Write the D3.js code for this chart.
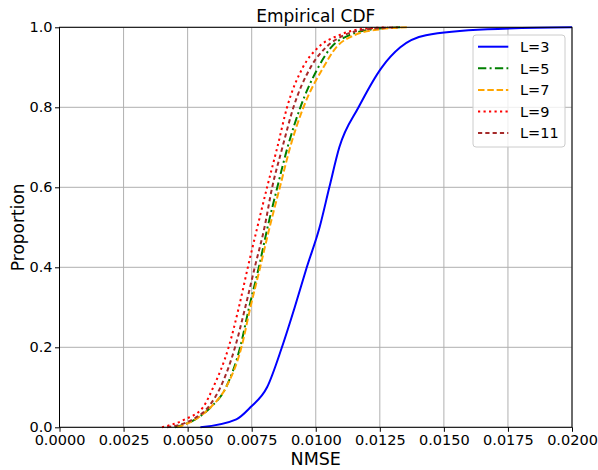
<!DOCTYPE html>
<html>
<head>
<meta charset="utf-8">
<script src="https://cdn.jsdelivr.net/npm/d3@7"></script>
<style>
  body { margin: 0; background: #fff; }
  svg { font-family: "DejaVu Sans", sans-serif; }
</style>
</head>
<body>
<svg width="598" height="470"></svg>
<script>
'use strict';

// proportion levels shared by every series (empirical quantiles)
const proportions = [0, 0.02, 0.05, 0.1, 0.2, 0.3, 0.4, 0.5, 0.6, 0.7, 0.8, 0.9, 0.95, 0.98, 0.995, 1];

// NMSE value at each proportion level, one array per L
const nmseL3  = [0.0055, 0.0069, 0.00745, 0.0081, 0.00868, 0.00918, 0.00965, 0.01015, 0.01053, 0.01092, 0.01167, 0.01258, 0.0133, 0.0143, 0.0167, 0.0200];
const nmseL5  = [0.0045, 0.0053, 0.0059, 0.0065, 0.00705, 0.0074, 0.00778, 0.00812, 0.0085, 0.0089, 0.0094, 0.0101, 0.0106, 0.0113, 0.0122, 0.0133];
const nmseL7  = [0.0046, 0.0053, 0.0059, 0.0065, 0.0071, 0.00745, 0.00783, 0.0082, 0.0086, 0.0090, 0.00952, 0.0103, 0.0108, 0.0115, 0.0125, 0.0136];
const nmseL9  = [0.0040, 0.0049, 0.0056, 0.0060, 0.0066, 0.0070, 0.00735, 0.00772, 0.0081, 0.0085, 0.00888, 0.0095, 0.0101, 0.0109, 0.0117, 0.0128];
const nmseL11 = [0.0042, 0.0052, 0.0058, 0.00628, 0.00685, 0.00725, 0.00762, 0.0080, 0.0083, 0.0087, 0.00913, 0.0098, 0.0104, 0.0111, 0.0120, 0.0132];

const seriesNames = ['L=3', 'L=5', 'L=7', 'L=9', 'L=11'];
const seriesValues = [nmseL3, nmseL5, nmseL7, nmseL9, nmseL11];

const xTicks = [0, 0.0025, 0.005, 0.0075, 0.01, 0.0125, 0.015, 0.0175, 0.02];
const yTicks = [0, 0.2, 0.4, 0.6, 0.8, 1.0];

const styles = [
  { color: '#0000ff', dash: null },
  { color: '#008000', dash: '8.3,3.3,2,3.3' },
  { color: '#ffa500', dash: '6.5,2.8' },
  { color: '#ff0000', dash: '2.2,3.3' },
  { color: '#a52a2a', dash: '4.2,3.1' }
];

const svg = d3.select('svg');
const margin = { left: 59.5, right: 26, top: 27.3, bottom: 42.7 };
const width = +svg.attr('width');
const height = +svg.attr('height');

const x = d3.scaleLinear().domain([0, 0.02]).range([margin.left, width - margin.right]);
const y = d3.scaleLinear().domain([0, 1]).range([height - margin.bottom, margin.top]);

svg.append('defs').append('clipPath')
    .attr('id', 'plot-clip')
  .append('rect')
    .attr('x', x(0)).attr('y', y(1) - 2)
    .attr('width', x(0.02) - x(0)).attr('height', y(0) - y(1) + 4);

// grid
const grid = svg.append('g').attr('class', 'grid');
grid.selectAll('.gx')
    .data(xTicks)
    .enter().append('line')
        .attr('x1', d => x(d)).attr('x2', d => x(d))
        .attr('y1', y(0)).attr('y2', y(1))
        .attr('stroke', '#b0b0b0').attr('stroke-width', 1);
grid.selectAll('.gy')
    .data(yTicks)
    .enter().append('line')
        .attr('x1', x(0)).attr('x2', x(0.02))
        .attr('y1', d => y(d)).attr('y2', d => y(d))
        .attr('stroke', '#b0b0b0').attr('stroke-width', 1);

// curves
const line = d3.line()
    .x(d => x(d[0]))
    .y(d => y(d[1]))
    .curve(d3.curveMonotoneX);

svg.append('g')
    .attr('clip-path', 'url(#plot-clip)')
    .selectAll('path')
    .data(seriesValues)
    .enter().append('path')
        .attr('d', vals => line(vals.map((v, i) => [v, proportions[i]])))
        .attr('fill', 'none')
        .attr('stroke', (d, i) => styles[i].color)
        .attr('stroke-width', 2)
        .attr('stroke-dasharray', (d, i) => styles[i].dash);

// axes
const xAxis = svg.append('g')
    .attr('transform', `translate(0, ${y(0)})`)
    .call(d3.axisBottom(x).tickValues(xTicks).tickFormat(d3.format('.4f')).tickSizeOuter(0).tickSize(4.5));
const yAxis = svg.append('g')
    .attr('transform', `translate(${x(0)}, 0)`)
    .call(d3.axisLeft(y).tickValues(yTicks).tickFormat(d3.format('.1f')).tickSizeOuter(0).tickSize(4.5));

[xAxis, yAxis].forEach(a => {
  a.select('.domain').remove();
  a.selectAll('line').attr('stroke', '#000').attr('stroke-width', 1);
  a.selectAll('text')
      .attr('fill', '#000')
      .style('font-size', '14.5px')
      .style('font-family', '"DejaVu Sans", sans-serif');
});
xAxis.selectAll('text').attr('dy', '0.71em').attr('y', 7);
yAxis.selectAll('text').attr('x', -7);

// frame
svg.append('rect')
    .attr('x', x(0)).attr('y', y(1))
    .attr('width', x(0.02) - x(0)).attr('height', y(0) - y(1))
    .attr('fill', 'none').attr('stroke', '#000').attr('stroke-width', 1);

// titles
svg.append('text')
    .attr('x', (x(0) + x(0.02)) / 2).attr('y', 21.5)
    .attr('text-anchor', 'middle')
    .style('font-size', '17px')
    .text('Empirical CDF');
svg.append('text')
    .attr('x', (x(0) + x(0.02)) / 2).attr('y', 465)
    .attr('text-anchor', 'middle')
    .style('font-size', '17.5px')
    .text('NMSE');
svg.append('text')
    .attr('transform', `translate(24, ${(y(0) + y(1)) / 2}) rotate(-90)`)
    .attr('text-anchor', 'middle')
    .style('font-size', '17px')
    .text('Proportion');

// legend
const legend = svg.append('g').attr('transform', 'translate(473, 35)');
legend.append('rect')
    .attr('width', 92).attr('height', 112)
    .attr('rx', 3)
    .attr('fill', '#fff').attr('fill-opacity', 0.8)
    .attr('stroke', '#cccccc').attr('stroke-width', 1);

const items = legend.selectAll('.item')
    .data(seriesNames)
    .enter().append('g')
        .attr('class', 'item')
        .attr('transform', (d, i) => `translate(0, ${11.7 + i * 21.6})`);
items.append('line')
    .attr('x1', 5).attr('x2', 35.3)
    .attr('stroke', (d, i) => styles[i].color)
    .attr('stroke-width', 2)
    .attr('stroke-dasharray', (d, i) => styles[i].dash);
items.append('text')
    .attr('x', 47).attr('dy', '0.36em')
    .style('font-size', '14.5px')
    .text(d => d);
</script>
</body>
</html>
